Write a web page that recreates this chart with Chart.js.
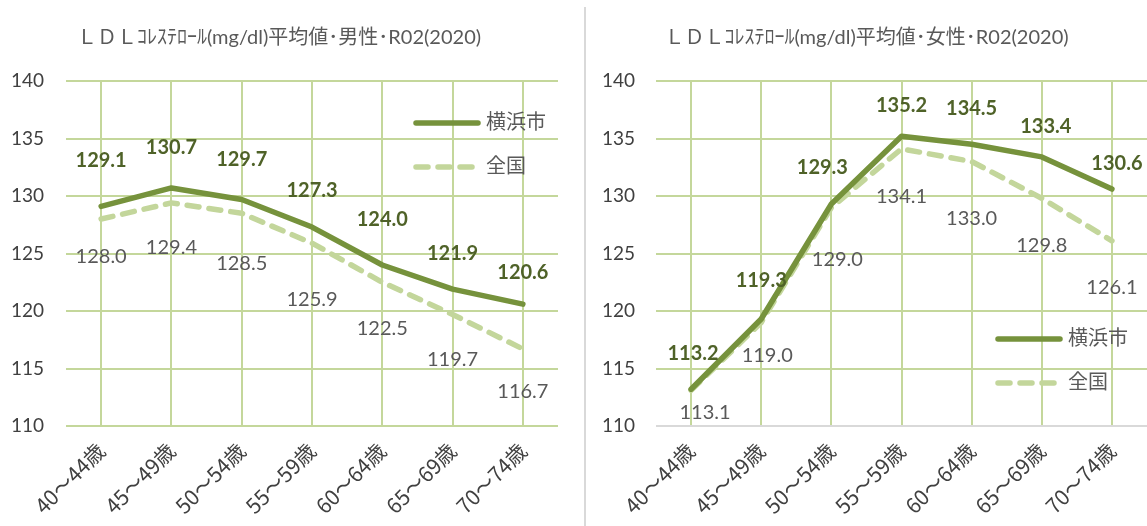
<!DOCTYPE html>
<html>
<head>
<meta charset="utf-8">
<script src="https://cdn.jsdelivr.net/npm/chart.js@4.4.0/dist/chart.umd.min.js"></script>
<style>
  body { margin: 0; background: #fff; width: 1147px; height: 526px; overflow: hidden; position: relative; }
  #left { position: absolute; left: 0; top: 0; width: 585px; height: 526px; }
  #right { position: absolute; left: 586px; top: 0; width: 561px; height: 526px; }
  #sep { position: absolute; left: 584px; top: 7px; width: 2px; height: 519px; background: #d9d9d9; }
</style>
</head>
<body>
<div id="left"><canvas id="chartMale"></canvas></div>
<div id="sep"></div>
<div id="right"><canvas id="chartFemale"></canvas></div>
<script>
// data
const ageLabels = ['40～44歳', '45～49歳', '50～54歳', '55～59歳', '60～64歳', '65～69歳', '70～74歳']
const yokohamaMale = [129.1, 130.7, 129.7, 127.3, 124.0, 121.9, 120.6]
const zenkokuMale = [128.0, 129.4, 128.5, 125.9, 122.5, 119.7, 116.7]
const yokohamaFemale = [113.2, 119.3, 129.3, 135.2, 134.5, 133.4, 130.6]
const zenkokuFemale = [113.1, 119.0, 129.0, 134.1, 133.0, 129.8, 126.1]
const seriesNames = ['横浜市', '全国']
const yMin = 110
const yMax = 140
const yStep = 5

const FONT = 'Lato, "Noto Sans CJK JP", sans-serif'
const GRID = '#c4d79b'

// draws the value next to each point
const valueLabels = {
  id: 'valueLabels',
  afterDatasetsDraw(chart, args, opts) {
    const ctx = chart.ctx
    chart.data.datasets.forEach((ds, i) => {
      const meta = chart.getDatasetMeta(i)
      ctx.save()
      ctx.font = (i === 0 ? 'bold ' : '') + '20px ' + FONT
      ctx.fillStyle = i === 0 ? '#4f6228' : '#595959'
      ctx.textAlign = 'center'
      ctx.textBaseline = 'middle'
      meta.data.forEach((pt, j) => {
        ctx.fillText(ds.data[j].toFixed(1), pt.x + opts.dx[i][j], pt.y + opts.dy[i][j])
      })
      ctx.restore()
    })
  }
}

// legend that sits inside the plot area
const innerLegend = {
  id: 'innerLegend',
  afterDraw(chart, args, opts) {
    const {ctx, chartArea} = chart
    chart.data.datasets.forEach((ds, i) => {
      const x = chartArea.left + opts.x
      const y = chartArea.top + opts.y + i * 44
      ctx.save()
      ctx.strokeStyle = ds.borderColor
      ctx.lineWidth = ds.borderWidth
      ctx.lineCap = 'round'
      ctx.setLineDash(ds.borderDash || [])
      ctx.beginPath()
      ctx.moveTo(x + 3, y)
      ctx.lineTo(x + 65, y)
      ctx.stroke()
      ctx.setLineDash([])
      ctx.fillStyle = '#595959'
      ctx.font = '20px ' + FONT
      ctx.textBaseline = 'middle'
      ctx.fillText(ds.label, x + 73, y)
      ctx.restore()
    })
  }
}

function makeChart(id, title, cityData, nationData, opt) {
  const ctx = document.getElementById(id).getContext('2d')
  return new Chart(ctx, {
    type: 'line',
    data: {
      labels: ageLabels,
      datasets: [
        {
          label: seriesNames[0],
          data: cityData,
          borderColor: '#76923c',
          borderWidth: 5.5,
          pointRadius: 0,
          tension: 0,
          borderJoinStyle: 'round',
          borderCapStyle: 'round'
        },
        {
          label: seriesNames[1],
          data: nationData,
          borderColor: '#c3d69b',
          borderWidth: 5.5,
          borderDash: [12, 10],
          borderCapStyle: 'round',
          borderJoinStyle: 'round',
          pointRadius: 0,
          tension: 0
        }
      ]
    },
    plugins: [valueLabels, innerLegend],
    options: {
      responsive: true,
      maintainAspectRatio: false,
      animation: false,
      devicePixelRatio: 1,
      layout: { padding: { left: 0, right: opt.padRight, top: 0, bottom: 0 } },
      scales: {
        x: {
          offset: true,
          grid: { offset: false, color: GRID, lineWidth: 2, drawTicks: false },
          border: { display: false },
          ticks: { color: '#404040', font: { family: '"Noto Sans CJK JP", sans-serif', size: 21 }, minRotation: 45, maxRotation: 45, padding: 12 },
          afterFit: (s) => { s.height = 100 }
        },
        y: {
          min: yMin,
          max: yMax,
          grid: {
            color: (c) => (opt.grayBase && c.tick && c.tick.value === yMin) ? '#d9d9d9' : GRID,
            lineWidth: 2,
            drawTicks: false
          },
          border: { display: false },
          ticks: { stepSize: yStep, color: '#404040', font: { family: FONT, size: 19 }, padding: opt.tickPad },
          afterFit: (s) => { s.width = opt.yWidth }
        }
      },
      plugins: {
        legend: { display: false },
        tooltip: { enabled: false },
        title: {
          display: true,
          text: title,
          color: '#595959',
          font: { family: FONT, size: 20, weight: 'normal' },
          padding: { top: 26, bottom: 31 }
        },
        valueLabels: { dx: opt.dx, dy: opt.dy },
        innerLegend: opt.legend
      }
    }
  })
}

makeChart('chartMale', 'ＬＤＬｺﾚｽﾃﾛｰﾙ(mg/dl)平均値･男性･R02(2020)', yokohamaMale, zenkokuMale, {
  padRight: 27, yWidth: 66, tickPad: 22, grayBase: false,
  dx: [[0, 0, 0, 0, 0, 0, 0], [0, 0, 0, 0, 0, 0, 0]],
  dy: [[-46, -40, -40, -37, -45, -36, -32], [38, 45, 50, 56, 46, 45, 43]],
  legend: { x: 347, y: 42 }
})

makeChart('chartFemale', 'ＬＤＬｺﾚｽﾃﾛｰﾙ(mg/dl)平均値･女性･R02(2020)', yokohamaFemale, zenkokuFemale, {
  padRight: 0, yWidth: 70, tickPad: 21, grayBase: true,
  dx: [[2, 0, -9, 0, 0, 4, 5], [14, 6, 6, 0, 0, 0, 0]],
  dy: [[-36, -39, -37, -31, -36, -30, -26], [22, 33, 52, 48, 57, 47, 47]],
  legend: { x: 339, y: 258 }
})
</script>
</body>
</html>
